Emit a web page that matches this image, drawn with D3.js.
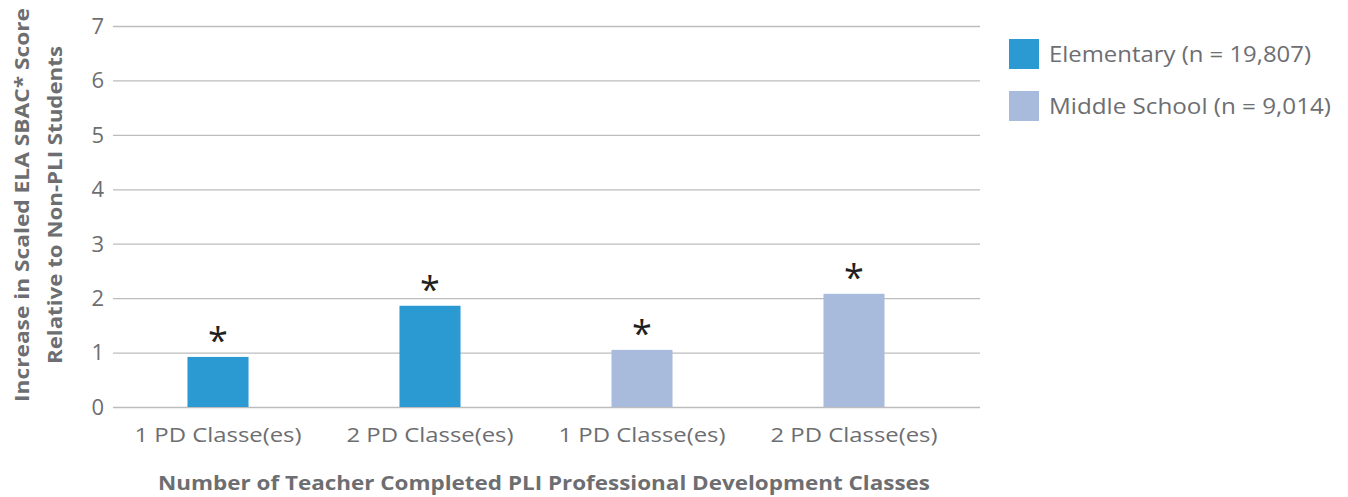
<!DOCTYPE html>
<html>
<head>
<meta charset="utf-8">
<script src="https://cdn.jsdelivr.net/npm/d3@7"></script>
<style>
  body { margin: 0; background: #fff; }
  text { font-family: "Open Sans", sans-serif; }
</style>
</head>
<body>
<script>
// chart data
var categories = ["1 PD Classe(es)", "2 PD Classe(es)", "1 PD Classe(es)", "2 PD Classe(es)"];
var groups = ["Elementary", "Elementary", "Middle School", "Middle School"];
var values = [0.92, 1.86, 1.05, 2.08];
var legendLabels = ["Elementary (n = 19,807)", "Middle School (n = 9,014)"];
var legendKeys = ["Elementary", "Middle School"];
var yTicks = [0, 1, 2, 3, 4, 5, 6, 7];

var width = 1348, height = 497;
var svg = d3.select("body").append("svg")
    .attr("width", width)
    .attr("height", height);

var color = d3.scaleOrdinal()
    .domain(legendKeys)
    .range(["#2b9ad3", "#a8bbdc"]);

var y = d3.scaleLinear().domain([0, 7]).range([407, 26]);
var x = d3.scaleBand()
    .domain(d3.range(categories.length))
    .range([112, 960])
    .paddingInner(0.712)
    .paddingOuter(0.356);

// squeeze/stretch a text to the width it has in the original
function fitWidth(sel, w) {
    sel.attr("textLength", w).attr("lengthAdjust", "spacingAndGlyphs");
}

// gridlines
svg.append("g").selectAll("line")
    .data(yTicks).enter()
    .append("line")
    .attr("x1", 113).attr("x2", 980)
    .attr("y1", function(d) { return y(d) + 0.5; })
    .attr("y2", function(d) { return y(d) + 0.5; })
    .attr("stroke", "#bdbdbd")
    .attr("stroke-width", 1.3);

// y tick labels
svg.append("g").selectAll("text")
    .data(yTicks).enter()
    .append("text")
    .attr("x", 104)
    .attr("y", function(d) { return y(d); })
    .attr("dy", "0.36em")
    .attr("text-anchor", "end")
    .attr("font-size", 22)
    .attr("fill", "#6d6e71")
    .text(function(d) { return d; });

// bars
svg.append("g").selectAll("rect")
    .data(values).enter()
    .append("rect")
    .attr("x", function(d, i) { return x(i); })
    .attr("width", x.bandwidth())
    .attr("y", function(d) { return y(d); })
    .attr("height", function(d) { return y(0) - y(d); })
    .attr("fill", function(d, i) { return color(groups[i]); });

// significance stars
svg.append("g").selectAll("text")
    .data(values).enter()
    .append("text")
    .attr("x", function(d, i) { return x(i) + x.bandwidth() / 2; })
    .attr("y", function(d) { return y(d) - 4; })
    .attr("text-anchor", "middle")
    .attr("font-size", 36)
    .attr("font-family", "'Liberation Sans', sans-serif")
    .attr("fill", "#231f20")
    .text("*");

// x labels
svg.append("g").selectAll("text")
    .data(categories).enter()
    .append("text")
    .attr("x", function(d, i) { return x(i) + x.bandwidth() / 2; })
    .attr("y", 442)
    .attr("text-anchor", "middle")
    .attr("font-size", 20)
    .attr("fill", "#6d6e71")
    .text(function(d) { return d; })
    .call(fitWidth, 167);

// x axis title
svg.append("text")
    .attr("x", 544)
    .attr("y", 490)
    .attr("text-anchor", "middle")
    .attr("font-size", 20)
    .attr("font-weight", "bold")
    .attr("fill", "#6d6e71")
    .text("Number of Teacher Completed PLI Professional Development Classes")
    .call(fitWidth, 772);

// y axis title (two lines)
var yTitle = svg.append("g")
    .attr("transform", "translate(22,205) rotate(-90)")
    .attr("font-size", 20)
    .attr("font-weight", "bold")
    .attr("fill", "#6d6e71");
yTitle.append("text").attr("x", 0).attr("y", 0).attr("dy", "0.35em")
    .attr("text-anchor", "middle")
    .text("Increase in Scaled ELA SBAC* Score")
    .call(fitWidth, 394);
yTitle.append("text").attr("x", 0).attr("y", 33).attr("dy", "0.35em")
    .attr("text-anchor", "middle")
    .text("Relative to Non-PLI Students")
    .call(fitWidth, 318);

// legend
var legend = svg.append("g").selectAll("g")
    .data(legendLabels).enter()
    .append("g")
    .attr("transform", function(d, i) { return "translate(1009," + (39 + i * 52) + ")"; });
legend.append("rect")
    .attr("width", 30).attr("height", 30)
    .attr("fill", function(d, i) { return color(legendKeys[i]); });
legend.append("text")
    .attr("x", 40).attr("y", 15)
    .attr("dy", "0.36em")
    .attr("font-size", 21)
    .attr("fill", "#6d6e71")
    .text(function(d) { return d; })
    .each(function(d, i) { d3.select(this).call(fitWidth, i === 0 ? 262 : 282); });
</script>
</body>
</html>
